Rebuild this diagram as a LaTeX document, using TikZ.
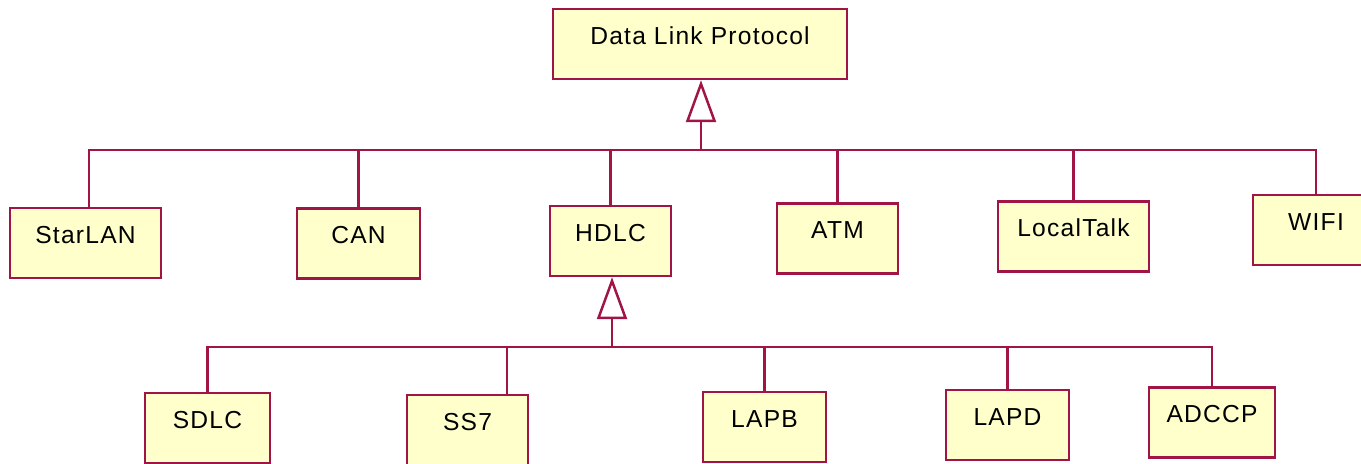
\documentclass[tikz,border=0pt]{standalone}
\usepackage{fontspec}
\setmainfont{Liberation Sans}[LetterSpace=5]
\usetikzlibrary{arrows.meta}
\definecolor{umlred}{RGB}{160,20,70}
\definecolor{umlfill}{RGB}{255,255,204}
\begin{document}
\begin{tikzpicture}[x=0.02cm,y=-0.02cm,
  cls/.style={draw=umlred,fill=umlfill,line width=0.05cm,inner sep=0pt,
    minimum height=1.4cm,text height=0.5cm,text depth=0.5cm,
    font=\fontsize{14}{16}\selectfont},
  link/.style={draw=umlred,line width=0.05cm},
  inherit/.style={link,-{Triangle[open,length=0.84cm,width=0.6cm]}}]
\useasboundingbox (0,0) rectangle (1361,463);
% parent classes
\node[cls,minimum width=5.88cm] (proto) at (700,44) {Data Link Protocol};
\node[cls,minimum width=3.02cm] (starlan) at (85.5,243) {StarLAN};
\node[cls,minimum width=2.46cm] (can) at (358.5,243.5) {CAN};
\node[cls,minimum width=2.42cm] (hdlc) at (610.5,241) {HDLC};
\node[cls,minimum width=2.42cm] (atm) at (837.5,238.5) {ATM};
\node[cls,minimum width=3.02cm] (localtalk) at (1073.5,236.5) {LocalTalk};
\node[cls,minimum width=2.52cm] (wifi) at (1316,230) {WIFI};
% HDLC subclasses
\node[cls,minimum width=2.50cm] (sdlc) at (207.5,428) {SDLC};
\node[cls,minimum width=2.42cm] (ss7) at (467.5,430) {SS7};
\node[cls,minimum width=2.46cm] (lapb) at (764.5,427) {LAPB};
\node[cls,minimum width=2.46cm] (lapd) at (1007.5,425) {LAPD};
\node[cls,minimum width=2.52cm] (adccp) at (1212,422.5) {ADCCP};

\coordinate (busTop) at (701,150);
\coordinate (busLow) at (612,347);
\draw[inherit] (busTop) -- (proto.south -| busTop);
\foreach \c in {can,hdlc,atm,localtalk,wifi}
  \draw[link] (\c.north) |- (busTop);
\draw[link] ([xshift=0.07cm]starlan.north) |- (busTop);
\draw[inherit] (busLow) -- (hdlc.south -| busLow);
\foreach \c in {sdlc,lapb,lapd,adccp}
  \draw[link] (\c.north) |- (busLow);
\draw[link] ([xshift=0.79cm]ss7.north) |- (busLow);
\end{tikzpicture}
\end{document}
